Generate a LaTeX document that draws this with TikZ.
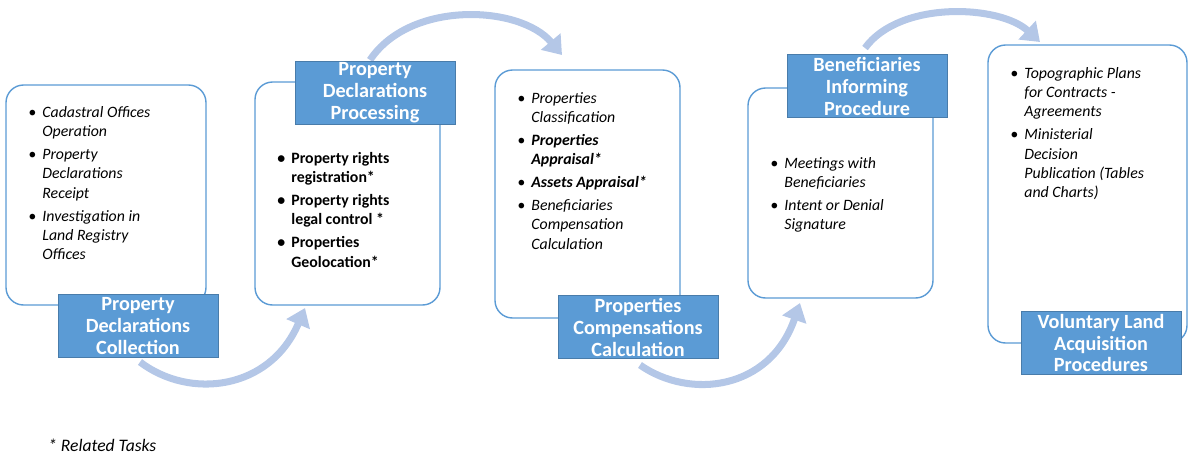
\documentclass[tikz,border=0pt]{standalone}
\usepackage{fontspec}
\setmainfont{Carlito}
\usetikzlibrary{arrows.meta}
\definecolor{boxblue}{RGB}{91,155,213}
\definecolor{arrowblue}{RGB}{180,199,231}
\newcommand\bitem[1]{\makebox[8pt][l]{\textbullet}#1}
\newcommand\cont[1]{\hspace*{8pt}#1}
\begin{document}
\begin{tikzpicture}
  [
    x=0.02cm, y=-0.02cm,
    panel/.style = {draw=boxblue, thick, rounded corners=10pt, fill=white},
    tag/.style   = {draw=boxblue!80!black, fill=boxblue, text=white, font=\bfseries\fontsize{11.5}{12.5}\selectfont,
                    align=center, inner sep=0pt, minimum width=3.2cm, minimum height=1.25cm},
    items/.style = {anchor=north west, align=left, inner sep=0pt},
    flow/.style  = {draw=arrowblue, line width=4pt, -{Triangle[length=10pt,width=14pt]}},
  ]
\useasboundingbox (0,0) rectangle (1194,458);

%Panels
\draw[panel] (6,85) rectangle (206,305);
\draw[panel] (255,82) rectangle (440,305);
\draw[panel] (495,70) rectangle (680,318);
\draw[panel] (748,88) rectangle (933,298);
\draw[panel] (988,45) rectangle (1187,343);

%Flow arrows
\draw[flow] (140,362) .. controls (190,400) and (270,390) .. (305,308);
\draw[flow] (370,60) .. controls (410,0) and (520,5) .. (562,55);
\draw[flow] (640,365) .. controls (690,400) and (770,390) .. (800,303);
\draw[flow] (865,48) .. controls (900,0) and (1000,5) .. (1040,42);

%Tags
\node[tag] (collect) at (138,326) {Property\\Declarations\\Collection};
\node[tag] (process) at (375,93) {Property\\Declarations\\Processing};
\node[tag] (compens) at (638,327) {Properties\\Compensations\\Calculation};
\node[tag] (inform) at (867,86) {Beneficiaries\\Informing\\Procedure};
\node[tag] (volunt) at (1101,343) {Voluntary Land\\Acquisition\\Procedures};

%Task lists
\node[items, font=\small\itshape] (list1) at (28,106) {
  \bitem{Cadastral Offices}\\ \cont{Operation}\\[2pt]
  \bitem{Property}\\ \cont{Declarations}\\ \cont{Receipt}\\[2pt]
  \bitem{Investigation in}\\ \cont{Land Registry}\\ \cont{Offices}};
\node[items, font=\small\bfseries] (list2) at (277,152) {
  \bitem{Property rights}\\ \cont{registration*}\\[2pt]
  \bitem{Property rights}\\ \cont{legal control *}\\[2pt]
  \bitem{Properties}\\ \cont{Geolocation*}};
\node[items, font=\small\itshape] (list3) at (517,92) {
  \bitem{Properties}\\ \cont{Classification}\\[2pt]
  \bitem{\bfseries Properties}\\ \cont{\bfseries Appraisal*}\\[2pt]
  \bitem{\bfseries Assets Appraisal*}\\[2pt]
  \bitem{Beneficiaries}\\ \cont{Compensation}\\ \cont{Calculation}};
\node[items, font=\small\itshape] (list4) at (770,157) {
  \bitem{Meetings with}\\ \cont{Beneficiaries}\\[2pt]
  \bitem{Intent or Denial}\\ \cont{Signature}};
\node[items, font=\small\itshape] (list5) at (1010,67) {
  \bitem{Topographic Plans}\\ \cont{for Contracts -}\\ \cont{Agreements}\\[2pt]
  \bitem{Ministerial}\\ \cont{Decision}\\ \cont{Publication (Tables}\\ \cont{and Charts)}};

\node[anchor=west, font=\itshape] (note) at (42,445) {* Related Tasks};
\end{tikzpicture}
\end{document}
